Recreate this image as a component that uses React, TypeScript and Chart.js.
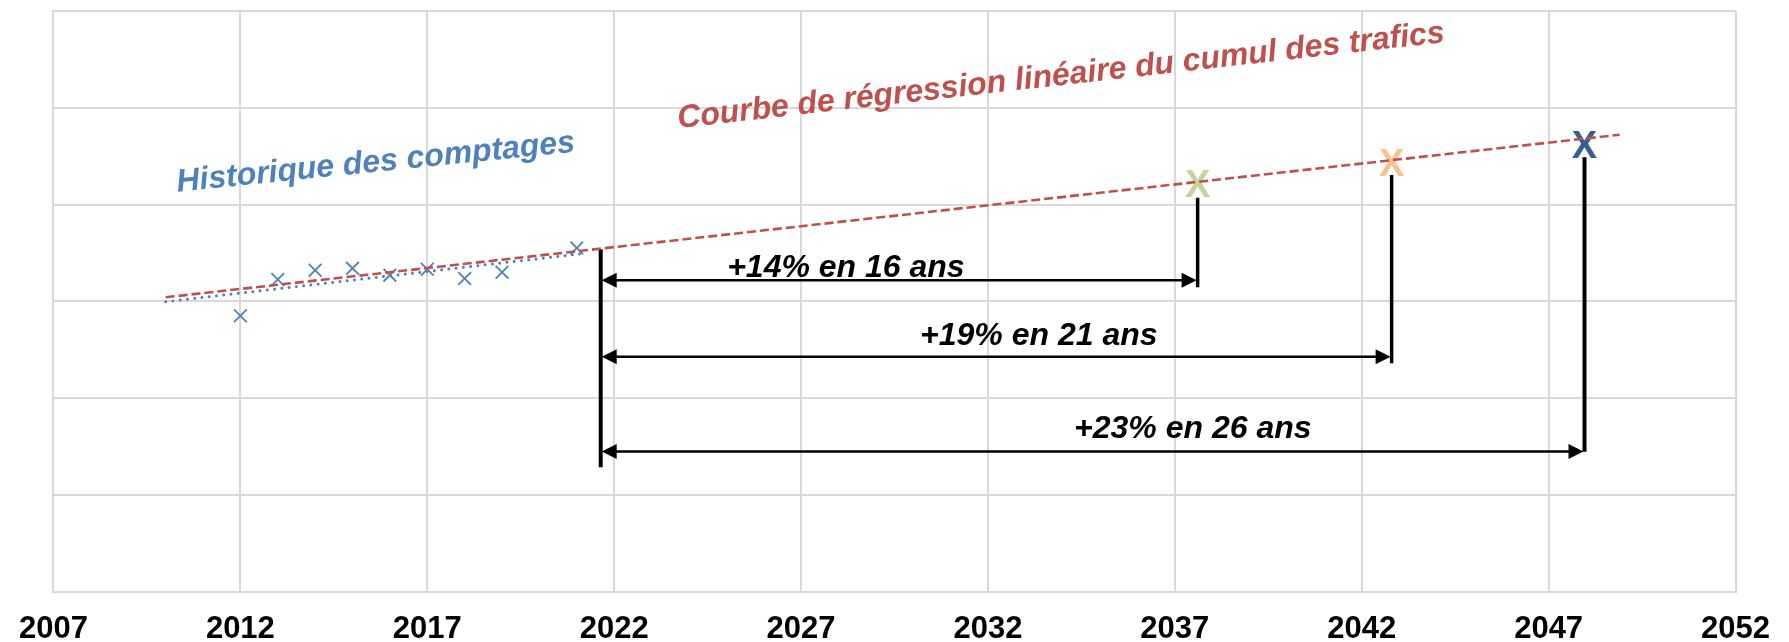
import React, { useEffect, useRef } from "react";
import { Chart, registerables } from "chart.js";

Chart.register(...registerables);

// ---- data ----
const xTickYears = [2007, 2012, 2017, 2022, 2027, 2032, 2037, 2042, 2047, 2052];
const yGridValues = [2600, 4600, 6600, 8600, 10600, 12600, 14600];

const countYears = [2012, 2013, 2014, 2015, 2016, 2017, 2018, 2019, 2021];
const countValues = [8300, 9050, 9240, 9280, 9140, 9260, 9070, 9200, 9700];

const trendYears = [2010, 2021.1];
const trendValues = [8590, 9580];

const regressionYears = [2010, 2048.9];
const regressionValues = [8682, 12043];

const horizonYears = [2037.61, 2042.8, 2047.96];
const horizonValues = [11028, 11458, 11830];
const horizonColors = ["#C3D69B", "#FAC090", "#376092"];
const horizonLineTops = [10741, 11210, 11576];
const horizonLineBottoms = [8889, 7317, 5490];

const baseYear = 2021.64;
const baseLineTop = 9674;
const baseLineBottom = 5167;

const arrowLevels = [9033, 7454, 5494];
const growthLabels = ["+14% en 16 ans", "+19% en 21 ans", "+23% en 26 ans"];
const growthLabelYears = [2028.2, 2033.36, 2037.48];
const growthLabelValues = [9101, 7696, 5767];

const historyLabel = "Historique des comptages";
const historyLabelYear = 2010.32;
const historyLabelValue = 10865;

const regressionLabel = "Courbe de régression linéaire du cumul des trafics";
const regressionLabelYear = 2023.72;
const regressionLabelValue = 12182;

const FONT = '"Liberation Sans", Arial, Helvetica, sans-serif';
const GRID = "#D9D9D9";

const annotationPlugin = {
  id: "annotations",
  beforeDatasetsDraw(chart: any) {
    const { ctx, scales } = chart;
    const x = scales.x;
    const y = scales.y;
    ctx.save();
    ctx.font = `bold 38px ${FONT}`;
    ctx.textAlign = "center";
    ctx.textBaseline = "alphabetic";
    horizonYears.forEach((yr, i) => {
      ctx.fillStyle = horizonColors[i];
      ctx.fillText("X", x.getPixelForValue(yr), y.getPixelForValue(horizonValues[i]) + 13.5);
    });
    ctx.restore();
  },
  afterDatasetsDraw(chart: any) {
    const { ctx, scales } = chart;
    const x = scales.x;
    const y = scales.y;
    ctx.save();
    // arrows
    const x0 = x.getPixelForValue(baseYear);
    const headLen = 15;
    const headHalf = 7.5;
    ctx.strokeStyle = "#000";
    ctx.fillStyle = "#000";
    ctx.lineWidth = 2.5;
    arrowLevels.forEach((lv, i) => {
      const py = y.getPixelForValue(lv);
      const x1 = x.getPixelForValue(horizonYears[i]);
      ctx.beginPath();
      ctx.moveTo(x0 + headLen - 1, py);
      ctx.lineTo(x1 - headLen + 1, py);
      ctx.stroke();
      ctx.beginPath();
      ctx.moveTo(x0 + 1, py);
      ctx.lineTo(x0 + 1 + headLen, py - headHalf);
      ctx.lineTo(x0 + 1 + headLen, py + headHalf);
      ctx.closePath();
      ctx.fill();
      ctx.beginPath();
      ctx.moveTo(x1 - 1, py);
      ctx.lineTo(x1 - 1 - headLen, py - headHalf);
      ctx.lineTo(x1 - 1 - headLen, py + headHalf);
      ctx.closePath();
      ctx.fill();
    });
    // growth labels
    ctx.font = `italic bold 32px ${FONT}`;
    ctx.textAlign = "center";
    ctx.textBaseline = "alphabetic";
    growthLabels.forEach((t, i) => {
      ctx.fillText(t, x.getPixelForValue(growthLabelYears[i]), y.getPixelForValue(growthLabelValues[i]));
    });
    // rotated labels
    ctx.textAlign = "left";
    ctx.save();
    ctx.translate(x.getPixelForValue(historyLabelYear), y.getPixelForValue(historyLabelValue));
    ctx.rotate((-5.75 * Math.PI) / 180);
    ctx.font = `italic bold 32px ${FONT}`;
    ctx.fillStyle = "#4F81BD";
    ctx.fillText(historyLabel, 0, 0);
    ctx.restore();
    ctx.save();
    ctx.translate(x.getPixelForValue(regressionLabelYear), y.getPixelForValue(regressionLabelValue));
    ctx.rotate((-6.4 * Math.PI) / 180);
    ctx.font = `italic bold 32px ${FONT}`;
    ctx.fillStyle = "#C0504D";
    ctx.fillText(regressionLabel, 0, 0);
    ctx.restore();
    ctx.restore();
  },
};

function pts(xs: number[], ys: number[]) {
  return xs.map((v, i) => ({ x: v, y: ys[i] }));
}

export default function App() {
  const ref = useRef<HTMLCanvasElement | null>(null);
  useEffect(() => {
    document.body.style.margin = "0";
    if (!ref.current) return;
    const vertical = [
      { xs: [baseYear, baseYear], ys: [baseLineTop, baseLineBottom], w: 4 },
      ...horizonYears.map((yr, i) => ({
        xs: [yr, yr],
        ys: [horizonLineTops[i], horizonLineBottoms[i]],
        w: i === 2 ? 4 : 3.5,
      })),
    ];
    const chart = new Chart(ref.current, {
      type: "line",
      data: {
        datasets: [
          {
            label: "Régression",
            data: pts(regressionYears, regressionValues),
            borderColor: "#C0504D",
            borderWidth: 2.6,
            borderDash: [9, 4],
            pointRadius: 0,
            fill: false,
          },
          {
            label: "Tendance",
            data: pts(trendYears, trendValues),
            borderColor: "#4F81BD",
            borderWidth: 3,
            borderDash: [0.01, 7.3],
            borderCapStyle: "round",
            pointRadius: 0,
            fill: false,
          },
          {
            label: "Comptages",
            data: pts(countYears, countValues),
            showLine: false,
            pointStyle: "crossRot",
            pointRadius: 9,
            pointBorderWidth: 1.8,
            pointBorderColor: "#4F81BD",
            pointBackgroundColor: "#4F81BD",
            borderColor: "#4F81BD",
          },
          ...vertical.map((v, i) => ({
            label: "v" + i,
            data: pts(v.xs, v.ys),
            borderColor: "#000",
            borderWidth: v.w,
            borderCapStyle: "butt",
            pointRadius: 0,
            fill: false,
          })),
        ] as any,
      },
      options: {
        responsive: false,
        animation: false,
        events: [],
        layout: { padding: { top: 11, right: 40.5, left: 0, bottom: 0 } },
        plugins: { legend: { display: false }, tooltip: { enabled: false } },
        scales: {
          x: {
            type: "linear",
            min: 2007,
            max: 2052,
            afterBuildTicks: (s: any) => {
              s.ticks = xTickYears.map((v) => ({ value: v }));
            },
            afterFit: (s: any) => {
              s.height = 50.5;
            },
            grid: { color: GRID, lineWidth: 2, drawTicks: false },
            border: { display: true, color: GRID, width: 2 },
            ticks: {
              padding: 19,
              color: "#000",
              font: { family: FONT, size: 31, weight: "bold" },
              callback: (v: any) => String(v),
              maxRotation: 0,
              autoSkip: false,
            },
          },
          y: {
            type: "linear",
            min: 2600,
            max: 14600,
            afterBuildTicks: (s: any) => {
              s.ticks = yGridValues.map((v) => ({ value: v }));
            },
            afterFit: (s: any) => {
              s.width = 50;
            },
            grid: { color: GRID, lineWidth: 2, drawTicks: false },
            border: { display: true, color: GRID, width: 2 },
            ticks: { display: false },
          },
        },
      } as any,
      plugins: [annotationPlugin],
    });
    return () => chart.destroy();
  }, []);
  return (
    <div style={{ width: 1789, height: 642, background: "#fff" }}>
      <canvas ref={ref} width={1789} height={642} style={{ display: "block" }} />
    </div>
  );
}
